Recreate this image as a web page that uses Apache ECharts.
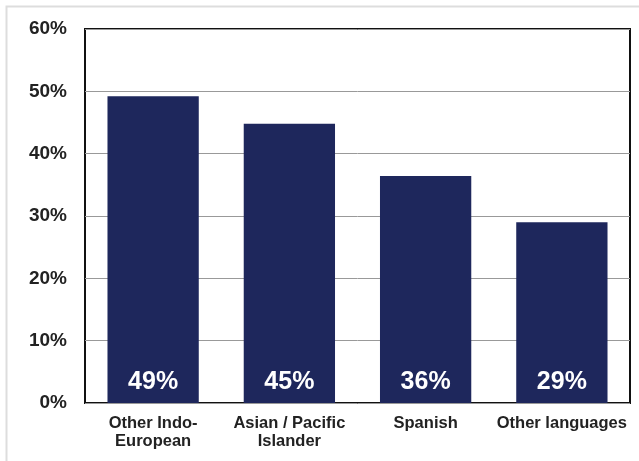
<!DOCTYPE html>
<html><head><meta charset="utf-8">
<script src="https://cdn.jsdelivr.net/npm/echarts@6/dist/echarts.min.js"></script>
<style>html,body{margin:0;padding:0;background:#fff}#c{width:639px;height:461px}</style>
</head><body><div id="c"></div>
<script>
var categories = ['Other Indo-\nEuropean', 'Asian / Pacific\nIslander', 'Spanish', 'Other languages'];
var values = [49.2, 44.8, 36.4, 29.0];
var valueLabels = ['49%', '45%', '36%', '29%'];
var yTicks = [0, 10, 20, 30, 40, 50, 60];

var chart = echarts.init(document.getElementById('c'));
chart.setOption({
  animation: false,
  graphic: [{
    type: 'rect', shape: {x: 6.5, y: 6.5, width: 640, height: 470},
    style: {fill: 'none', stroke: '#dddddd', lineWidth: 2}, silent: true, z: -10
  }],
  grid: {left: 85, right: 9, top: 29, bottom: 58, show: true, borderColor: '#111', borderWidth: 2, backgroundColor: 'transparent'},
  xAxis: {
    type: 'category', data: categories,
    axisLine: {show: false}, axisTick: {show: false},
    axisLabel: {color: '#222', fontFamily: 'Liberation Sans, Arial', fontWeight: 'bold', fontSize: 16.5, lineHeight: 18, margin: 11, interval: 0}
  },
  yAxis: {
    type: 'value', min: 0, max: 60, interval: 10,
    axisLine: {show: false}, axisTick: {show: false},
    splitLine: {lineStyle: {color: '#999', width: 1}},
    axisLabel: {color: '#222', fontFamily: 'Liberation Sans, Arial', fontWeight: 'bold', fontSize: 19, margin: 18,
      formatter: function (v) { return yTicks.indexOf(v) >= 0 ? v + '%' : ''; }}
  },
  series: [{
    type: 'bar', data: values, barWidth: '67%',
    itemStyle: {color: '#1e275c'},
    label: {show: true, position: 'insideBottom', distance: 8, color: '#fff', fontFamily: 'Liberation Sans, Arial', fontWeight: 'bold', fontSize: 25,
      formatter: function (p) { return valueLabels[p.dataIndex]; }}
  }]
});
</script></body></html>
